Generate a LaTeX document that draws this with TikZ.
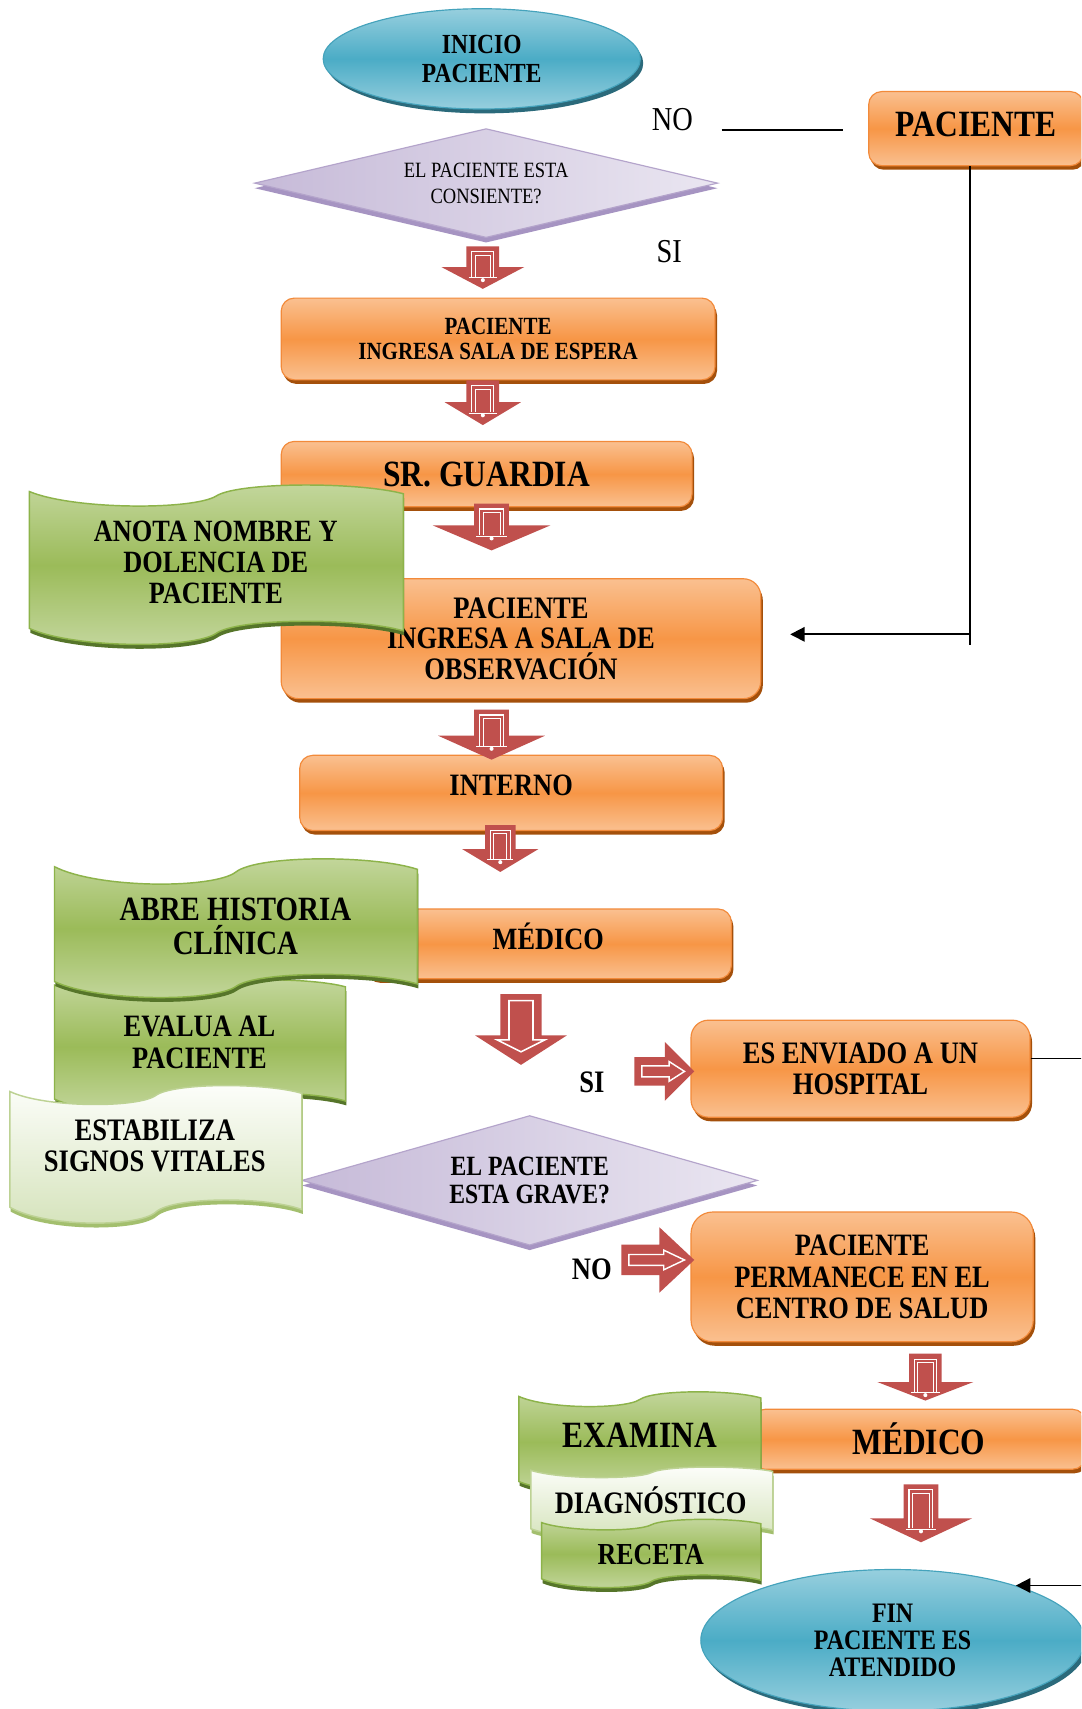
\documentclass[tikz,border=0pt]{standalone}
\usepackage{fontspec}
\setmainfont{Liberation Serif}[FakeStretch=0.85]
\usetikzlibrary{shapes.geometric,arrows.meta}

\definecolor{orTop}{HTML}{FAC090}
\definecolor{orMid}{HTML}{F79646}
\definecolor{orLine}{HTML}{F28A3A}
\definecolor{orShadow}{HTML}{A4500B}
\definecolor{blTop}{HTML}{97CFDE}
\definecolor{blMid}{HTML}{4BACC6}
\definecolor{blLine}{HTML}{45A3BC}
\definecolor{blShadow}{HTML}{2B6A7B}
\definecolor{liLeft}{HTML}{C6BAD8}
\definecolor{liRight}{HTML}{EAE6F1}
\definecolor{liLine}{HTML}{B4A4CB}
\definecolor{liShadow}{HTML}{A694C2}
\definecolor{grTop}{HTML}{C4D79E}
\definecolor{grMid}{HTML}{9BBB59}
\definecolor{grLine}{HTML}{8DB34A}
\definecolor{grShadow}{HTML}{56752A}
\definecolor{lgTop}{HTML}{FDFEFB}
\definecolor{lgBot}{HTML}{D5E3BB}
\definecolor{lgLine}{HTML}{BDD294}
\definecolor{lgShadow}{HTML}{A3BF6E}
\definecolor{rdFill}{HTML}{C0504D}

\newcommand\setfs[2]{\fontsize{#1}{#2}\selectfont}

% wave banner: left x, right x, top mid level, top amplitude, bottom mid level, bottom amplitude, style
\newcommand\wavebox[7]{%
  \path[#7] (#1,{#3-0.4*#4})
    .. controls ({#1+0.12*(#2-#1)},{#3+1.3*#4}) and ({#1+0.44*(#2-#1)},{#3+1.3*#4}) .. ({#1+0.5*(#2-#1)},#3)
    .. controls ({#1+0.56*(#2-#1)},{#3-1.3*#4}) and ({#1+0.88*(#2-#1)},{#3-1.3*#4}) .. (#2,{#3-0.2*#4})
    -- (#2,{#5-0.2*#6})
    .. controls ({#1+0.88*(#2-#1)},{#5-1.3*#6}) and ({#1+0.56*(#2-#1)},{#5-1.3*#6}) .. ({#1+0.5*(#2-#1)},#5)
    .. controls ({#1+0.44*(#2-#1)},{#5+1.3*#6}) and ({#1+0.12*(#2-#1)},{#5+1.3*#6}) .. (#1,{#5-0.4*#6})
    -- cycle;}

% downward block arrow: centre x, top, tip, head start, shaft half width, head half width
\newcommand\dblk[6]{%
  \fill[rdFill] ({#1-#5},#2) -- ({#1+#5},#2) -- ({#1+#5},#4) -- ({#1+#6},#4) -- (#1,#3)
    -- ({#1-#6},#4) -- ({#1-#5},#4) -- cycle;
  \draw[white, line width=0.7pt] ({#1-#5+5},{#4+9}) -- ({#1-#5+5},{#2+5}) -- ({#1+#5-5},{#2+5}) -- ({#1+#5-5},{#4+9});
  \draw[white, line width=0.45pt] ({#1-#5+8},{#4+9}) -- ({#1-#5+8},{#2+8}) -- ({#1+#5-8},{#2+8}) -- ({#1+#5-8},{#4+9});
  \draw[white, line width=0.7pt] ({#1-#5+2},{#4+10}) -- ({#1+#5-2},{#4+10});
  \fill[white] (#1,{#4+12}) circle (1.4pt);}

% downward block arrow with an outlined inner arrow
\newcommand\bigdblk[6]{%
  \fill[rdFill] ({#1-#5},#2) -- ({#1+#5},#2) -- ({#1+#5},#4) -- ({#1+#6},#4) -- (#1,#3)
    -- ({#1-#6},#4) -- ({#1-#5},#4) -- cycle;
  \draw[white, line width=1.1pt, line join=miter] ({#1-#5+8},{#2+6}) -- ({#1+#5-8},{#2+6}) -- ({#1+#5-8},{#4+4})
    -- ({#1+#6-20},{#4+4}) -- (#1,{#3-12}) -- ({#1-#6+20},{#4+4}) -- ({#1-#5+8},{#4+4}) -- cycle;}

% rightward block arrow: left, tip, centre y, head start, shaft half height, head half height
\newcommand\rblk[6]{%
  \fill[rdFill] (#1,{#3-#5}) -- (#4,{#3-#5}) -- (#4,{#3-#6}) -- (#2,#3) -- (#4,{#3+#6})
    -- (#4,{#3+#5}) -- (#1,{#3+#5}) -- cycle;
  \draw[white, line width=1pt, line join=miter] ({#1+7},{#3-5}) -- ({#4+4},{#3-5}) -- ({#4+4},{#3-9})
    -- ({#2-9},#3) -- ({#4+4},{#3+9}) -- ({#4+4},{#3+5}) -- ({#1+7},{#3+5}) -- cycle;}

\begin{document}
\begin{tikzpicture}[x=0.75pt,y=-0.75pt,
  conn/.style={draw=black, line width=1.2pt},
  endtip/.style={-{Triangle[length=10pt,width=10pt]}},
  sz/.style 2 args={minimum width={#1*0.75pt}, minimum height={#2*0.75pt}},
  obox/.style={rectangle, rounded corners=#1, draw=orLine, line width=0.8pt,
    top color=orTop, bottom color=orTop, middle color=orMid,
    preaction={fill=orShadow, transform canvas={xshift=1.4pt,yshift=-2.8pt}},
    align=center, inner sep=0pt},
  obox/.default=9pt,
  bellipse/.style={ellipse, draw=blLine, line width=0.8pt,
    top color=blTop, bottom color=blTop, middle color=blMid,
    preaction={fill=blShadow, transform canvas={xshift=2pt,yshift=-3pt}},
    align=center, inner sep=0pt},
  ldiamond/.style={diamond, aspect=#1, draw=liLine, line width=0.8pt,
    left color=liLeft, right color=liRight,
    preaction={fill=liShadow, transform canvas={yshift=-3.5pt}},
    align=center, inner sep=0pt},
  gwave/.style={draw=grLine, line width=1pt, top color=grTop, bottom color=grTop, middle color=grMid,
    preaction={fill=grShadow, transform canvas={xshift=0.6pt,yshift=-3pt}}},
  lwave/.style={draw=lgLine, line width=1pt, top color=lgTop, bottom color=lgBot,
    preaction={fill=lgShadow, transform canvas={xshift=0.6pt,yshift=-3pt}}},
  wtext/.style={align=center, inner sep=0pt},
  lbl/.style={inner sep=0pt}
]
\path[use as bounding box] (0,0) rectangle (992,1568);
\clip (0,0) rectangle (992,1568);
\fill[white] (0,0) rectangle (992,1568);

% ---- main column ----
\node[bellipse, sz={291}{92}, font=\bfseries\setfs{19}{19.5}] (inicio) at (442,54) {INICIO\\PACIENTE};
\node[ldiamond=4.25, sz={425}{100}, font=\setfs{15}{18}] (consc) at (446,168) {EL PACIENTE ESTA\\CONSIENTE?};
\node[lbl, font=\setfs{23}{23}] (no1) at (617,110) {NO};
\node[lbl, font=\setfs{23}{23}] (si1) at (614,231) {SI};

\node[obox, sz={197}{68}, text depth=6pt, font=\bfseries\setfs{25.5}{25.5}] (pacR) at (895.5,118) {PACIENTE};

\node[obox, sz={398}{75}, font=\bfseries\setfs{17}{17.25}] (espera) at (457,311) {PACIENTE\\INGRESA SALA DE ESPERA};
\node[obox, sz={377}{60}, font=\bfseries\setfs{25.5}{25.5}] (guardia) at (446.5,435) {SR. GUARDIA};
\node[obox=12pt, sz={440}{110}, font=\bfseries\setfs{21.5}{21}] (obs) at (478,586) {PACIENTE\\INGRESA A SALA DE\\OBSERVACIÓN};
\node[obox, sz={388}{69}, text depth=11pt, font=\bfseries\setfs{21.4}{21.4}] (interno) at (469,727.5) {INTERNO};
\node[obox, sz={336}{64}, text depth=10.5pt, font=\bfseries\setfs{21.3}{21.3}] (medico1) at (503,866) {MÉDICO};
\node[obox=12pt, sz={311}{89}, font=\bfseries\setfs{21.5}{21}] (hosp) at (789.5,980.5) {ES ENVIADO A UN\\HOSPITAL};
\node[ldiamond=3.5, sz={418}{119}, font=\bfseries\setfs{19.2}{18.75}] (grave) at (486,1083) {EL PACIENTE\\ESTA GRAVE?};
\node[obox=15pt, sz={314}{119}, font=\bfseries\setfs{21.4}{21.4}] (perm) at (791,1171.5) {PACIENTE\\PERMANECE EN EL\\CENTRO DE SALUD};
\node[obox, sz={306}{55}, font=\bfseries\setfs{25.5}{25.5}] (medico2) at (843,1320.5) {MÉDICO};
\node[bellipse, sz={352}{130}, font=\bfseries\setfs{19.4}{18.75}] (fin) at (819,1505) {FIN\\PACIENTE ES\\ATENDIDO};

\node[lbl, font=\bfseries\setfs{21.5}{21.5}] (si2) at (543,993) {SI};
\node[lbl, font=\bfseries\setfs{21.5}{21.5}] (no2) at (543,1165) {NO};

% ---- line connectors ----
\coordinate (noL) at (662,119);
\coordinate (noR) at (773,119);
\draw[conn] (noL) -- (noR);
\coordinate (turn) at (890,582);
\coordinate (obsIn) at (725,582);
\draw[conn] (pacR.south -| turn) -- (turn) -- ++(0,10);
\draw[conn, endtip] (turn) -- (obsIn);
\draw[conn] ([yshift=7pt]hosp.east) -- ++(60,0);
\coordinate (finR) at (1000,1457);
\draw[conn, endtip] (finR |- fin.24) -- (fin.24);

% ---- wave banners ----
\wavebox{27}{370}{455}{10}{581}{11}{gwave}
\node[wtext, font=\bfseries\setfs{21.3}{21}] (anota) at (198,516) {ANOTA NOMBRE Y\\DOLENCIA DE\\PACIENTE};
\wavebox{50}{317}{907}{8}{1012}{9}{gwave}
\node[wtext, font=\bfseries\setfs{21.4}{21.75}] (evalua) at (183,956.5) {EVALUA AL\\PACIENTE};
\wavebox{50}{383}{800}{12}{905}{11}{gwave}
\node[wtext, font=\bfseries\setfs{23.4}{24}] (abre) at (216,850) {ABRE HISTORIA\\CLÍNICA};
\wavebox{9}{277}{1005}{9}{1112}{11}{lwave}
\node[wtext, font=\bfseries\setfs{21.5}{21.75}] (estab) at (142,1051.5) {ESTABILIZA\\SIGNOS VITALES};
\wavebox{476}{698}{1284}{7}{1362}{7}{gwave}
\node[wtext, font=\bfseries\setfs{25.5}{25.5}] (examina) at (587,1317) {EXAMINA};
\wavebox{487}{709}{1351}{5}{1405}{6}{lwave}
\node[wtext, font=\bfseries\setfs{21.5}{21.5}] (diag) at (597,1376) {DIAGNÓSTICO};
\wavebox{497}{698}{1399}{5}{1451}{6}{gwave}
\node[wtext, font=\bfseries\setfs{21}{21}] (receta) at (597,1426) {RECETA};

% ---- block arrows ----
\dblk{443}{226}{265}{245}{15}{38}
\dblk{443}{349}{390}{369}{15}{35}
\dblk{451}{462}{505}{482}{16}{54}
\dblk{451}{651}{697}{675}{16}{49}
\dblk{459}{757}{800}{779}{14}{35}
\bigdblk{478}{912}{977}{950}{19}{42}
\dblk{849}{1242}{1285}{1268}{15}{44}
\dblk{845}{1362}{1415}{1393}{16}{47}
\rblk{582}{637}{983}{610}{13}{27}
\rblk{570}{637}{1156}{605}{14}{30}
\end{tikzpicture}
\end{document}
